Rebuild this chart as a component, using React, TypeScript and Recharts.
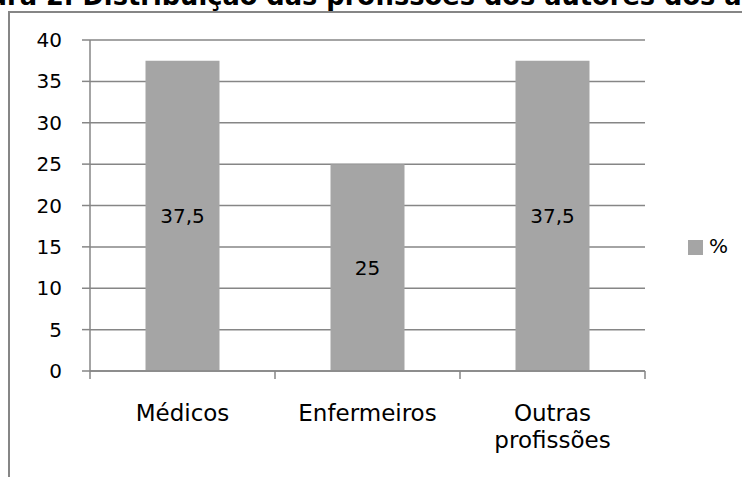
import { Bar, BarChart, CartesianGrid, LabelList, XAxis, YAxis } from 'recharts';

const categories = ['Médicos', 'Enfermeiros', 'Outras profissões'];
const percentValues = [37.5, 25, 37.5];
const yTicks = [0, 5, 10, 15, 20, 25, 30, 35, 40];

const title = 'Figura 2. Distribuição das profissões dos autores dos artigos';

const AXIS = '#868686';
const BAR = '#a5a5a5';
const FONT = '"DejaVu Sans", Verdana, sans-serif';

const data = categories.map((name, i) => ({ name, pct: percentValues[i] }));

// category label (split in lines) + tick marks on the category edges, like Excel
function CategoryTick(props: any) {
  const { x, y, payload, index, visibleTicksCount } = props;
  const half = payload?.offset ?? 0;
  const lines = String(payload?.value ?? '').split(' ');
  const isLast = index === visibleTicksCount - 1;
  return (
    <g>
      <line x1={x - half} x2={x - half} y1={y} y2={y + 8} stroke={AXIS} strokeWidth={1.5} />
      {isLast && <line x1={x + half} x2={x + half} y1={y} y2={y + 8} stroke={AXIS} strokeWidth={1.5} />}
      <text x={x} y={y} textAnchor="middle" fill="#000" fontSize={23} fontFamily={FONT}>
        {lines.map((line, i) => (
          <tspan key={line} x={x} dy={i === 0 ? 50 : 27}>
            {line}
          </tspan>
        ))}
      </text>
    </g>
  );
}

export default function App() {
  return (
    <div
      style={{
        position: 'absolute',
        left: 0,
        top: 0,
        width: 742,
        height: 477,
        overflow: 'hidden',
        background: '#fff',
        fontFamily: FONT,
      }}
    >
      <div
        style={{
          position: 'absolute',
          left: -56,
          top: -16,
          fontSize: 25.7,
          lineHeight: 1,
          fontWeight: 'bold',
          whiteSpace: 'nowrap',
          color: '#000',
        }}
      >
        {title}
      </div>
      <div
        style={{
          position: 'absolute',
          left: 8,
          top: 11,
          width: 760,
          height: 500,
          borderLeft: `2px solid ${AXIS}`,
          borderTop: `2px solid ${AXIS}`,
        }}
      />
      <div style={{ position: 'absolute', left: 0, top: 0 }}>
        <BarChart
          width={742}
          height={477}
          data={data}
          barCategoryGap="30%"
          margin={{ top: 40, right: 97, left: 10, bottom: 8 }}
        >
          <CartesianGrid vertical={false} stroke={AXIS} strokeWidth={1.5} />
          <XAxis
            dataKey="name"
            stroke={AXIS}
            strokeWidth={1.5}
            tickLine={false}
            tick={<CategoryTick />}
            tickSize={0}
            tickMargin={0}
            height={98}
            interval={0}
          />
          <YAxis
            domain={[0, 40]}
            ticks={yTicks}
            width={80}
            tickSize={8}
            tickMargin={20}
            stroke={AXIS}
            strokeWidth={1.5}
            tick={{ fill: '#000', fontSize: 20, fontFamily: FONT }}
          />
          <Bar dataKey="pct" fill={BAR} isAnimationActive={false}>
            <LabelList
              dataKey="pct"
              position="center"
              fill="#000"
              fontSize={20}
              fontFamily={FONT}
              formatter={(v: number) => String(v).replace('.', ',')}
            />
          </Bar>
        </BarChart>
      </div>
      <div style={{ position: 'absolute', left: 688, top: 240, width: 15, height: 15, background: BAR }} />
      <div style={{ position: 'absolute', left: 709, top: 236, fontSize: 20, lineHeight: 1, color: '#000' }}>%</div>
    </div>
  );
}
